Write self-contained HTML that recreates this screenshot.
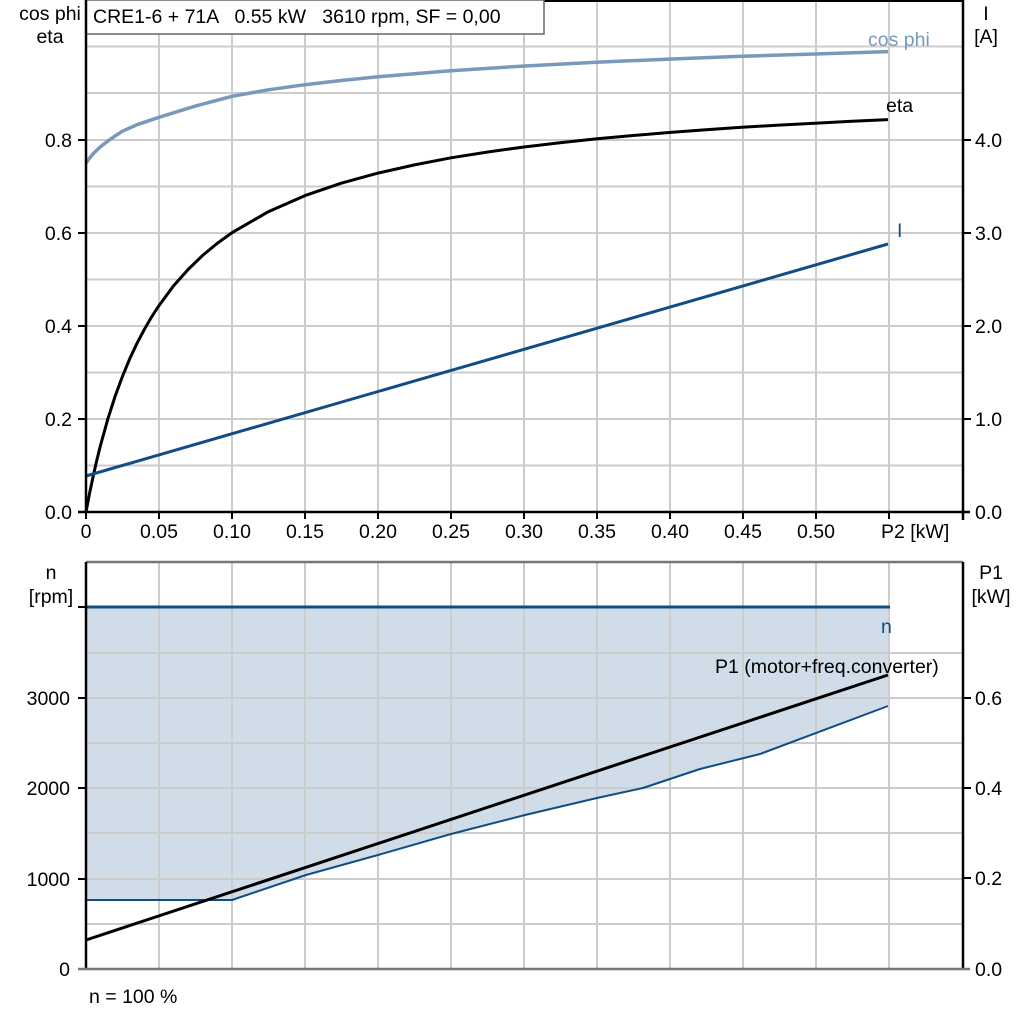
<!DOCTYPE html>
<html><head><meta charset="utf-8"><style>
html,body{margin:0;padding:0;background:#fff}
svg{display:block}
text{font-family:"Liberation Sans",Arial,sans-serif;font-size:19.5px;white-space:pre}
polyline{stroke-linejoin:round}
</style></head><body>
<svg width="1024" height="1024" viewBox="0 0 1024 1024" xml:space="preserve">
<g stroke="#cccccc" stroke-width="2">
<line x1="159" y1="0" x2="159" y2="512"/><line x1="232" y1="0" x2="232" y2="512"/><line x1="305" y1="0" x2="305" y2="512"/><line x1="378" y1="0" x2="378" y2="512"/><line x1="451" y1="0" x2="451" y2="512"/><line x1="524" y1="0" x2="524" y2="512"/><line x1="597" y1="0" x2="597" y2="512"/><line x1="670" y1="0" x2="670" y2="512"/><line x1="743" y1="0" x2="743" y2="512"/><line x1="816" y1="0" x2="816" y2="512"/><line x1="889" y1="0" x2="889" y2="512"/>
<line x1="86" y1="465.5" x2="963" y2="465.5"/><line x1="86" y1="419" x2="963" y2="419"/><line x1="86" y1="372.5" x2="963" y2="372.5"/><line x1="86" y1="326" x2="963" y2="326"/><line x1="86" y1="279.5" x2="963" y2="279.5"/><line x1="86" y1="233" x2="963" y2="233"/><line x1="86" y1="186.5" x2="963" y2="186.5"/><line x1="86" y1="140" x2="963" y2="140"/><line x1="86" y1="93" x2="963" y2="93"/><line x1="86" y1="46.5" x2="963" y2="46.5"/>
</g>
<line x1="86" y1="1" x2="963" y2="1" stroke="#000" stroke-width="2"/>
<rect x="86" y="0" width="458" height="34" fill="#fff" stroke="#666" stroke-width="1.5"/>
<text x="93" y="23">CRE1-6 + 71A   0.55 kW   3610 rpm, SF = 0,00</text>
<polyline fill="none" stroke="#7799bb" stroke-width="3.5" points="86,163 89.6,158.2 93.3,153.6 100.6,146.6 107.9,141 115.2,135.9 122.5,131.2 137,124.7 159,117.3 195.3,106.1 232,96.3 268.3,89.8 305,84.7 341.2,80.5 378,76.8 451,70.7 523,66.1 596,62.3 669,59.1 742,56.3 815,54 888,51.6"/>
<polyline fill="none" stroke="#000" stroke-width="3" points="86,512 89.6,493.1 93.3,475.7 96.9,459.8 100.6,445 107.9,418.8 115.2,396 122.5,376.3 129.7,358.8 137,343.3 144.3,329.5 151.6,316.9 159,305.6 173.5,285.9 188.1,269.5 202.6,255.4 217.2,243.4 232,232.7 268.3,211.7 305,195.6 341.2,183.2 378,173.1 414.5,164.9 451,157.8 487,152.1 523,147.1 560,142.7 596,138.9 633,135.5 669,132.5 706,129.7 742,127.2 779,125.1 815,123.2 852,121.3 888,119.6"/>
<line x1="86" y1="476" x2="888" y2="244" stroke="#114d85" stroke-width="3"/>
<text x="868" y="46" fill="#7799bb">cos phi</text>
<text x="886" y="112">eta</text>
<text x="897" y="237" fill="#114d85">I</text>
<g stroke="#000" stroke-width="2.5">
<line x1="86" y1="0" x2="86" y2="513"/><line x1="963" y1="0" x2="963" y2="520"/><line x1="78" y1="512" x2="970" y2="512"/>
</g>
<g stroke="#000" stroke-width="2">
<line x1="78" y1="419" x2="86" y2="419"/><line x1="78" y1="326" x2="86" y2="326"/><line x1="78" y1="233" x2="86" y2="233"/><line x1="78" y1="140" x2="86" y2="140"/>
<line x1="963" y1="419" x2="971" y2="419"/><line x1="963" y1="326" x2="971" y2="326"/><line x1="963" y1="233" x2="971" y2="233"/><line x1="963" y1="140" x2="971" y2="140"/>
<line x1="86" y1="512" x2="86" y2="519"/><line x1="159" y1="512" x2="159" y2="519"/><line x1="232" y1="512" x2="232" y2="519"/><line x1="305" y1="512" x2="305" y2="519"/><line x1="378" y1="512" x2="378" y2="519"/><line x1="451" y1="512" x2="451" y2="519"/><line x1="524" y1="512" x2="524" y2="519"/><line x1="597" y1="512" x2="597" y2="519"/><line x1="670" y1="512" x2="670" y2="519"/><line x1="743" y1="512" x2="743" y2="519"/><line x1="816" y1="512" x2="816" y2="519"/><line x1="889" y1="512" x2="889" y2="519"/>
</g>
<g text-anchor="end">
<text x="72" y="519">0.0</text><text x="72" y="426">0.2</text><text x="72" y="333">0.4</text><text x="72" y="240">0.6</text><text x="72" y="147">0.8</text>
</g>
<g text-anchor="middle">
<text x="50" y="20">cos phi</text><text x="50" y="43">eta</text>
<text x="986" y="20">I</text><text x="986" y="43">[A]</text>
<text x="86" y="538">0</text><text x="159" y="538">0.05</text><text x="232" y="538">0.10</text><text x="305" y="538">0.15</text><text x="378" y="538">0.20</text><text x="451" y="538">0.25</text><text x="524" y="538">0.30</text><text x="597" y="538">0.35</text><text x="670" y="538">0.40</text><text x="743" y="538">0.45</text><text x="816" y="538">0.50</text>
</g>
<text x="881" y="538">P2 [kW]</text>
<g>
<text x="975" y="519">0.0</text><text x="975" y="426">1.0</text><text x="975" y="333">2.0</text><text x="975" y="240">3.0</text><text x="975" y="147">4.0</text>
</g>
<polygon fill="#d0dce8" points="86,607 888,607 888,706 760,754 700,769 643,788 597,798 525,815 451,834 378,855 306,875 232,900 86,900"/>
<g stroke="#cccccc" stroke-width="2">
<line x1="159" y1="562" x2="159" y2="969"/><line x1="232" y1="562" x2="232" y2="969"/><line x1="305" y1="562" x2="305" y2="969"/><line x1="378" y1="562" x2="378" y2="969"/><line x1="451" y1="562" x2="451" y2="969"/><line x1="524" y1="562" x2="524" y2="969"/><line x1="597" y1="562" x2="597" y2="969"/><line x1="670" y1="562" x2="670" y2="969"/><line x1="743" y1="562" x2="743" y2="969"/><line x1="816" y1="562" x2="816" y2="969"/><line x1="889" y1="562" x2="889" y2="969"/>
<line x1="86" y1="924" x2="963" y2="924"/><line x1="86" y1="879" x2="963" y2="879"/><line x1="86" y1="833" x2="963" y2="833"/><line x1="86" y1="788" x2="963" y2="788"/><line x1="86" y1="743" x2="963" y2="743"/><line x1="86" y1="698" x2="963" y2="698"/><line x1="86" y1="653" x2="963" y2="653"/>
</g>
<line x1="86" y1="607" x2="890" y2="607" stroke="#114d85" stroke-width="3"/>
<polyline fill="none" stroke="#114d85" stroke-width="2" points="86,900 232,900 306,875 378,855 451,834 525,815 597,798 643,788 700,769 760,754 888,706"/>
<line x1="86" y1="940" x2="888" y2="675" stroke="#000" stroke-width="3"/>
<text x="881" y="633" fill="#114d85">n</text>
<text x="715" y="673">P1 (motor+freq.converter)</text>
<line x1="86" y1="562" x2="963" y2="562" stroke="#777" stroke-width="2.5"/>
<g stroke="#000" stroke-width="2.5">
<line x1="86" y1="562" x2="86" y2="970"/><line x1="963" y1="562" x2="963" y2="970"/>
</g>
<line x1="78" y1="969" x2="970" y2="969" stroke="#777" stroke-width="2.5"/>
<g stroke="#000" stroke-width="2">
<line x1="78" y1="607" x2="86" y2="607"/><line x1="78" y1="698" x2="86" y2="698"/><line x1="78" y1="788" x2="86" y2="788"/><line x1="78" y1="879" x2="86" y2="879"/>
<line x1="963" y1="698" x2="971" y2="698"/><line x1="963" y1="788" x2="971" y2="788"/><line x1="963" y1="878" x2="971" y2="878"/>
</g>
<g text-anchor="end">
<text x="70" y="976">0</text><text x="70" y="886">1000</text><text x="70" y="795">2000</text><text x="70" y="705">3000</text>
</g>
<g text-anchor="middle">
<text x="51" y="579">n</text><text x="51" y="603">[rpm]</text>
<text x="991" y="579">P1</text><text x="991" y="603">[kW]</text>
</g>
<text x="975" y="976">0.0</text><text x="975" y="885">0.2</text><text x="975" y="795">0.4</text><text x="975" y="705">0.6</text>
<text x="89" y="1003">n = 100 %</text>
</svg>
</body></html>
